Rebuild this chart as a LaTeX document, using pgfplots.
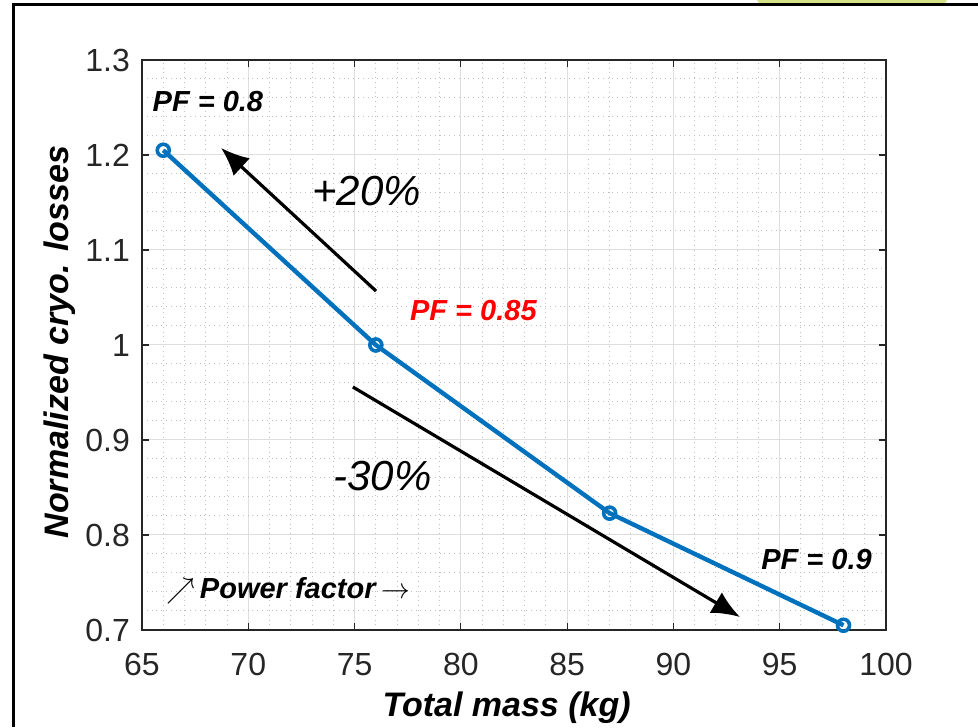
\documentclass[border=0pt]{standalone}
\usepackage{fontspec}
\setmainfont{Liberation Sans}
\usepackage{pgfplots}
\pgfplotsset{compat=1.18}
\usetikzlibrary{arrows.meta}
\definecolor{mblue}{RGB}{0,114,189}
\definecolor{tickgray}{RGB}{38,38,38}
\definecolor{patch}{RGB}{214,226,136}

\begin{document}
\begin{tikzpicture}[x=1pt,y=1pt]
\useasboundingbox (0,0) rectangle (489,363.5);
% page frame
\fill[patch] (378.5,363.5) -- (473.5,363.5) -- (472,361) -- (380,361) -- cycle;
\draw[line width=1.5pt] (6.5,0) -- (6.5,361) -- (489,361);
\begin{axis}[
  at={(71pt,48.5pt)}, anchor=south west,
  scale only axis, width=372pt, height=285pt,
  xmin=65, xmax=100, ymin=0.7, ymax=1.3,
  xtick={65,70,75,80,85,90,95,100},
  ytick={0.7,0.8,0.9,1,1.1,1.2,1.3},
  minor x tick num=4, minor y tick num=4,
  grid=both,
  major grid style={color=black!13, line width=0.5pt},
  minor grid style={color=black!25, dotted, line width=0.5pt},
  tick align=inside, major tick length=3.5pt, minor tick length=0pt,
  axis line style={color=tickgray, line width=0.6pt},
  tick style={color=tickgray, line width=0.6pt},
  ticklabel style={font=\fontsize{16}{19}\selectfont, text=tickgray},
  /pgf/number format/assume math mode=true,
  xticklabel style={yshift=-8pt},
  yticklabel style={xshift=-2.5pt},
  xlabel={Total mass (kg)},
  ylabel={Normalized cryo. losses},
  label style={font=\fontsize{17}{20}\selectfont\bfseries\itshape, text=black},
  xlabel style={at={(axis description cs:0.49,-0.137)}, anchor=center},
  ylabel style={at={(axis description cs:-0.110,0.505)}, anchor=center, rotate=0},
  clip=false,
]
\addplot[mblue, line width=2.2pt, mark=o, mark size=3pt, mark options={line width=1.8pt}]
  coordinates {(66,1.205) (76,1.0) (87,0.823) (98,0.705)};

\node[font=\fontsize{14.5}{17}\selectfont\bfseries\itshape] at (axis cs:68.10,1.2568) {PF = 0.8};
\node[font=\fontsize{14.5}{17}\selectfont\bfseries\itshape, text=red] at (axis cs:80.59,1.0358) {PF = 0.85};
\node[font=\fontsize{14.5}{17}\selectfont\bfseries\itshape] at (axis cs:96.73,0.7747) {PF = 0.9};
\node[font=\fontsize{21}{24}\selectfont\itshape] at (axis cs:75.56,1.162) {+20\%};
\node[font=\fontsize{21}{24}\selectfont\itshape] at (axis cs:76.31,0.862) {-30\%};
\node[font=\fontsize{14.5}{17}\selectfont] at (axis cs:71.89,0.741) {$\nearrow$\,\textbf{\textit{Power factor}}\,$\rightarrow$};

\draw[line width=1.6pt, -{Latex[length=14pt,width=12pt]}] (axis cs:76.01,1.0568) -- (axis cs:68.72,1.2074);
\draw[line width=1.6pt, -{Latex[length=14pt,width=12pt]}] (axis cs:74.92,0.9558) -- (axis cs:93.13,0.7137);
\end{axis}
\end{tikzpicture}
\end{document}
